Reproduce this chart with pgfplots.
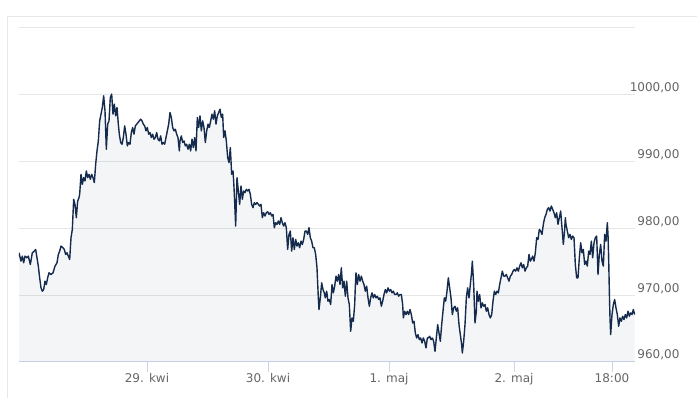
\documentclass[border=0pt]{standalone}
\usepackage{pgfplots}
\pgfplotsset{compat=1.18}
\usepackage{pgfplotstable}
\usepackage{fontspec}
\setmainfont{DejaVu Sans}
\definecolor{gridc}{HTML}{E6E6E6}
\definecolor{tickc}{HTML}{CCD6EB}
\definecolor{labc}{HTML}{666666}
\definecolor{linec}{HTML}{152B4E}
\definecolor{framec}{HTML}{E8E8E8}

\pgfplotstableread{
x y
19.0 976.35
21.0 975.1
22.33 975.85
23.67 974.85
25.0 975.85
27.0 975.6
28.33 975.85
30.33 974.6
32.33 976.35
34.33 976.6
35.67 976.85
37.0 975.6
38.33 974.35
39.67 972.6
41.0 971.1
42.33 970.6
43.67 970.85
45.0 972.1
46.33 971.6
47.67 972.6
49.0 973.35
51.0 973.1
53.0 973.35
55.0 974.35
57.0 974.85
58.33 976.1
59.67 976.6
61.0 977.35
63.0 977.1
64.33 976.85
65.67 976.1
67.0 976.35
68.33 975.85
69.67 975.35
71.0 978.6
72.33 979.85
73.67 984.35
75.0 983.6
76.33 981.6
77.67 984.1
79.0 984.6
79.67 985.1
81.0 988.1
82.33 986.6
83.67 987.6
85.0 987.1
86.33 988.6
87.67 987.6
89.0 988.1
90.33 987.35
91.67 988.1
93.0 987.6
94.33 986.85
95.67 989.6
97.0 991.6
98.33 993.1
99.67 996.1
101.0 997.1
102.33 998.1
103.67 999.85
105.0 997.6
106.33 991.85
107.67 995.6
109.0 996.1
110.33 999.6
111.67 1000.1
113.0 997.1
114.33 998.6
115.67 996.85
117.0 998.1
118.33 995.6
119.33 994.1
120.67 992.85
122.0 992.6
123.33 993.6
124.67 995.35
126.0 994.1
127.33 992.35
128.67 992.85
130.0 992.6
131.33 994.35
132.67 995.1
134.0 994.1
135.33 995.35
136.67 995.6
138.0 995.85
139.33 996.1
140.67 996.35
142.0 996.1
143.33 995.6
144.67 995.35
146.0 994.6
147.33 995.1
148.67 994.1
150.0 994.35
151.33 993.6
152.67 994.1
154.0 993.35
155.33 993.6
156.67 994.35
158.0 993.35
159.33 993.1
160.67 993.85
162.0 992.6
163.33 992.85
164.67 992.6
166.0 993.6
167.33 994.6
168.67 995.6
170.0 997.35
171.33 996.6
172.67 995.1
174.0 994.6
175.33 994.85
176.67 994.1
178.0 993.6
179.33 991.6
180.0 993.1
181.33 993.85
182.67 992.85
184.0 993.1
185.33 992.35
186.67 992.6
188.0 991.85
189.33 992.6
190.67 991.6
192.0 993.35
193.33 992.1
194.67 993.6
196.0 991.6
197.33 996.6
198.67 995.1
200.0 996.85
201.33 994.6
202.67 996.1
204.0 995.1
205.33 992.85
206.67 994.6
208.0 995.6
209.33 995.1
210.67 996.1
212.0 997.1
213.33 996.35
214.67 997.6
216.0 995.6
217.33 996.85
218.67 997.35
220.0 997.85
221.33 996.6
222.67 997.1
223.0 995.9
223.67 993.6
225.0 994.6
226.33 993.1
227.67 990.6
229.0 989.85
230.33 992.1
231.67 988.1
233.0 988.6
233.67 987.1
234.33 985.1
235.67 980.35
237.0 987.6
238.33 985.6
239.67 983.6
241.0 986.35
242.33 984.35
243.67 985.6
245.0 985.35
246.33 985.85
247.67 985.6
249.0 985.85
250.33 985.1
251.67 983.6
253.0 983.1
254.33 983.85
255.67 983.6
257.0 983.85
258.33 983.6
259.67 983.35
261.0 983.6
262.33 981.6
263.67 982.35
265.0 981.85
266.33 982.35
267.67 982.5
269.0 982.1
270.33 982.35
271.67 981.85
273.0 982.1
274.33 980.1
275.67 980.85
277.0 980.6
278.33 981.1
279.67 980.6
281.0 981.6
282.33 980.85
283.67 980.35
285.0 980.85
286.33 980.1
287.67 976.85
289.0 979.1
290.33 979.6
291.67 976.6
293.0 978.6
294.33 976.85
295.67 978.35
297.0 977.35
298.33 977.85
299.67 977.1
301.0 978.1
302.33 977.6
303.67 978.35
305.0 979.6
306.33 979.6
307.67 979.1
309.0 980.1
310.33 978.6
311.67 978.1
313.0 977.1
314.33 977.1
315.67 976.1
317.0 974.1
318.33 969.6
319.0 967.85
320.33 969.6
321.67 971.85
323.0 970.85
324.33 970.35
325.33 969.6
326.67 970.6
328.0 969.1
329.33 969.35
330.67 968.6
332.0 971.6
333.33 970.35
334.67 971.35
336.0 972.85
337.33 972.1
338.67 973.1
340.0 971.6
341.33 974.1
342.67 971.1
344.0 972.1
345.33 969.85
346.67 972.1
348.0 969.6
349.33 968.6
350.67 964.6
352.0 966.6
353.33 966.1
354.67 968.6
355.33 971.35
356.0 973.35
357.33 971.6
358.67 973.1
360.0 972.1
361.33 972.85
362.67 972.1
364.0 971.6
365.33 970.6
366.67 971.35
368.0 969.6
369.33 968.35
370.67 969.6
372.0 970.35
373.33 969.6
374.67 970.1
376.0 969.6
377.33 969.85
378.67 969.35
380.0 969.6
381.33 968.35
382.67 969.1
384.0 970.1
385.33 970.85
386.67 970.35
388.0 971.1
389.33 970.6
390.67 970.85
392.0 970.35
393.33 970.6
394.67 970.1
396.0 970.1
397.33 970.35
398.67 969.85
400.0 970.1
401.33 970.1
402.67 968.6
403.33 966.6
404.67 967.6
406.0 967.1
407.33 967.6
408.67 967.1
410.0 967.85
411.33 967.1
412.67 965.85
414.0 966.1
415.33 964.35
416.67 963.6
418.0 964.1
419.33 963.35
420.67 963.6
422.0 962.85
423.33 963.6
424.67 963.1
426.0 962.1
427.33 963.6
428.33 963.6
429.67 963.85
431.0 963.35
432.33 963.6
433.67 963.1
435.0 961.6
436.33 963.6
437.67 965.6
439.0 964.35
440.33 963.1
441.67 965.6
443.0 967.6
444.33 969.6
445.67 969.1
447.0 970.6
448.33 972.6
449.67 971.1
451.0 969.6
452.33 967.1
453.67 968.1
455.0 968.35
456.33 967.6
457.67 968.1
459.0 965.6
460.33 964.1
461.67 962.6
462.33 961.35
463.67 963.1
465.0 965.6
466.33 969.6
467.67 971.1
469.0 969.6
470.33 971.6
471.67 973.6
472.33 975.1
473.67 971.6
475.0 965.85
476.33 967.6
477.0 970.6
478.33 969.1
479.67 970.1
481.0 968.1
482.33 968.85
483.67 968.35
485.0 968.6
486.33 967.6
487.67 968.1
489.0 967.1
490.33 966.6
491.67 967.1
493.0 969.1
494.33 970.6
495.67 970.1
497.0 970.6
498.33 970.35
499.67 971.6
501.0 972.6
502.33 973.6
503.67 972.85
505.0 972.85
506.33 973.1
507.67 972.6
509.0 972.1
510.33 972.85
511.67 973.1
513.0 973.6
514.33 973.85
515.67 973.6
517.0 974.1
518.33 973.6
519.67 974.35
521.0 974.85
522.33 974.1
523.67 974.6
525.0 973.6
526.33 974.1
527.67 974.35
529.0 976.1
530.33 975.1
531.33 975.35
532.67 975.85
534.0 975.1
535.33 976.35
536.67 978.6
538.0 978.35
539.33 979.85
540.67 979.6
542.0 979.1
543.33 980.6
544.67 981.6
546.0 982.1
547.33 982.85
548.67 983.1
550.0 982.6
551.33 983.35
552.67 982.85
554.0 982.35
555.33 981.6
556.67 982.35
558.0 980.6
559.33 981.6
560.67 982.6
562.0 980.1
563.33 977.6
564.67 979.85
565.33 981.6
566.0 980.6
567.33 979.6
568.67 978.6
570.0 979.1
571.33 978.35
572.67 978.85
574.0 978.6
575.33 974.6
576.67 972.6
578.0 972.6
579.33 975.6
580.67 977.85
582.0 976.35
583.33 976.85
584.67 974.6
586.0 975.1
587.33 974.35
588.67 976.6
590.0 976.1
591.33 978.1
592.67 975.6
594.0 977.85
595.33 978.6
596.67 978.85
598.0 973.1
599.33 976.1
600.67 977.6
602.0 975.1
603.33 974.35
604.67 979.1
606.0 978.1
607.33 980.85
608.0 979.1
608.67 975.6
609.33 970.6
610.0 966.6
610.67 964.1
612.0 967.1
613.33 968.6
614.67 969.35
616.0 968.1
617.33 967.1
618.67 965.35
620.0 966.6
621.33 966.1
622.67 966.85
624.0 966.35
625.33 967.1
626.67 966.6
628.0 967.6
629.33 966.85
630.67 967.35
632.0 967.1
633.33 967.85
634.67 967.1
}\pricedata

\begin{document}
\begin{tikzpicture}[x=1pt,y=1pt]
\useasboundingbox (0,0) rectangle (697,398);
\fill[white] (0,0) rectangle (697,398);
\draw[framec, line width=1pt] (7,0) -- (7,381) -- (697,381);
\begin{axis}[
  at={(19pt,36pt)}, anchor=south west,
  scale only axis, width=616pt, height=334pt,
  xmin=19, xmax=635, ymin=960, ymax=1010,
  axis x line*=bottom, axis y line*=right,
  x axis line style={draw=tickc, line width=1pt, -},
  y axis line style={draw=none},
  ytick={960,970,980,990,1000,1010},
  yticklabels={{960,00},{970,00},{980,00},{990,00},{1000,00},{}},
  xtick={147,268,389,514,612},
  xticklabels={29. kwi,30. kwi,1. maj,2. maj,18:00},
  ymajorgrids, grid style={draw=gridc, line width=1pt},
  tick align=outside, major tick length=10pt,
  xtick style={draw=tickc, line width=1pt},
  ytick style={draw=none},
  ticklabel style={font=\fontsize{12}{14}\selectfont, text=labc},
  xticklabel style={anchor=base, yshift=-11pt},
  yticklabel style={anchor=base east, xshift=38pt, yshift=3pt},
  clip=true,
]
\addplot[draw=none, fill=linec, fill opacity=0.045] table[x=x,y=y] {\pricedata} \closedcycle;
\addplot[draw=linec, line width=1.4pt, line join=round] table[x=x,y=y] {\pricedata};
\end{axis}
\end{tikzpicture}
\end{document}
